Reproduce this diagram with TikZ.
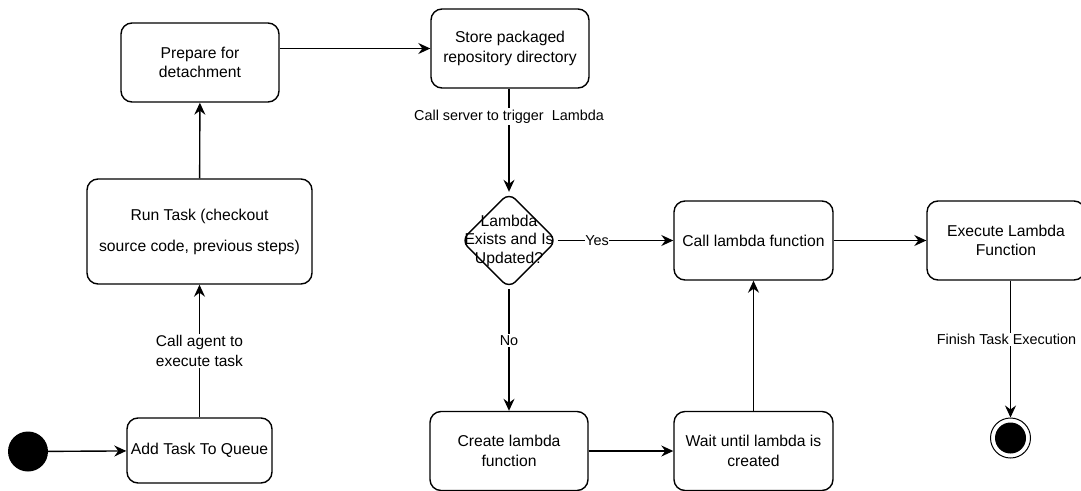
\documentclass[tikz,border=0pt]{standalone}
\usepackage{fontspec}
\setmainfont{Liberation Sans}
\usetikzlibrary{arrows.meta,shapes.geometric}
\begin{document}
\begin{tikzpicture}[x=1pt,y=-1pt,
  box/.style={draw=black, line width=1.4pt, rounded corners=11pt, align=center,
    inner sep=0pt, font=\fontsize{15.7}{19.5}\selectfont},
  lbl/.style={fill=white, inner sep=1.5pt, align=center, font=\fontsize{14.4}{18.5}\selectfont},
  conn/.style={line width=1.4pt, -{Stealth[length=12pt,width=11pt,inset=4pt]}}
]
\useasboundingbox (0,0) rectangle (1081,490);
\clip (0,0) rectangle (1081,490);

% start / end
\node[circle, fill=black, minimum size=40pt, inner sep=0pt] (start) at (28,451.5) {};
\node[circle, draw=black, line width=1pt, fill=white, minimum size=40pt, inner sep=0pt] (endc) at (1010.5,438) {};
\node[circle, fill=black, minimum size=31pt, inner sep=0pt] (endin) at (1010.5,438) {};

% boxes
\node[box, minimum width=145pt, minimum height=65pt] (add) at (199.5,450.5) {Add Task To Queue};
\node[box, minimum width=225pt, minimum height=105pt, font=\fontsize{15.7}{31}\selectfont] (run) at (199.5,231.5) {Run Task (checkout\\source code, previous steps)};
\node[box, minimum width=158pt, minimum height=79pt] (prep) at (200,62.5) {Prepare for\\detachment};
\node[box, minimum width=158pt, minimum height=79pt] (store) at (510,48.5) {Store packaged\\repository directory};
\node[draw=black, line width=1.4pt, diamond, shape aspect=1, rounded corners=9pt, minimum width=96pt, minimum height=96pt, inner sep=0pt] (dec) at (509,240.5) {};
\node[align=center, inner sep=0pt, font=\fontsize{15.7}{18.5}\selectfont] (dectext) at (dec.center) {Lambda\\Exists and Is\\Updated?};
\node[box, minimum width=159pt, minimum height=79pt] (call) at (753.5,240.5) {Call lambda function};
\node[box, minimum width=158pt, minimum height=79pt] (exec) at (1006,240.5) {Execute Lambda\\Function};
\node[box, minimum width=158pt, minimum height=79pt] (create) at (509,451) {Create lambda\\function};
\node[box, minimum width=159pt, minimum height=79pt] (wait) at (753.5,451) {Wait until lambda is\\created};

% connectors
\draw[conn] (start) -- (add);
\draw[conn] (add) -- node[lbl, font=\fontsize{15.5}{19.5}\selectfont] {Call agent to\\execute task} (run);
\draw[conn] (run) -- (prep);
\draw[conn] (prep.east |- store.west) -- (store.west);
\draw[conn] (store.south -| dec.north) -- node[lbl, pos=0.27] {Call server to trigger\ \ Lambda} (dec.north);
\draw[conn] (dec.east) -- node[lbl, inner sep=0pt, pos=0.34] {Yes} (call.west);
\draw[conn] (dec.south) -- node[lbl, pos=0.42] {No} (create.north);
\draw[conn] (create) -- (wait);
\draw[conn] (wait) -- (call);
\draw[conn] (call) -- (exec);
\draw[conn] (exec.south -| endc.north) -- node[lbl, pos=0.43, xshift=-4pt] {Finish Task Execution} (endc.north);
\end{tikzpicture}
\end{document}
